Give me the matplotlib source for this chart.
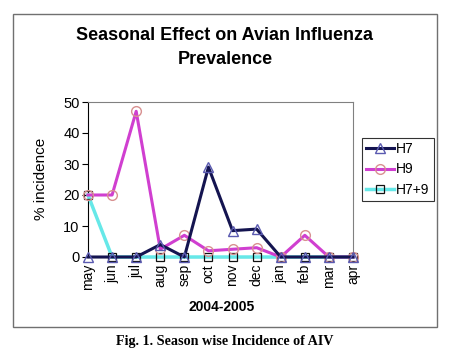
import matplotlib
matplotlib.use("Agg")
import matplotlib.pyplot as plt
from matplotlib.patches import Rectangle

months = ["may", "jun", "jul", "aug", "sep", "oct", "nov", "dec", "jan", "feb", "mar", "apr"]
h7 = [0, 0, 0, 4, 0, 29, 8.5, 9, 0, 0, 0, 0]
h9 = [20, 20, 47, 2.5, 7, 2, 2.5, 3, 0, 7, 0, 0]
h79 = [20, 0, 0, 0, 0, 0, 0, 0, 0, 0, 0, 0]

W, H = 450, 357
fig = plt.figure(figsize=(W / 100, H / 100), dpi=100)
plt.rcParams['font.family'] = ['Liberation Sans', 'DejaVu Sans']

# gray frame around the chart
fig.patches.append(Rectangle((13 / W, 1 - 327 / H), 424 / W, 313 / H, transform=fig.transFigure,
                             fill=False, edgecolor='#707070', linewidth=1.0))

ax = fig.add_axes([88 / W, 1 - 257 / H, 265 / W, 155 / H])
x = list(range(len(months)))

ax.plot(x, h79, color='#66e8e8', linewidth=2.5, marker='s', markersize=6,
        markerfacecolor='none', markeredgecolor='#111111', markeredgewidth=0.9,
        label='H7+9', clip_on=False, zorder=3)
ax.plot(x, h9, color='#d03fd0', linewidth=2.2, marker='o', markersize=7,
        markerfacecolor='none', markeredgecolor='#d89090', markeredgewidth=1.0,
        label='H9', clip_on=False, zorder=4)
ax.plot(x, h7, color='#141450', linewidth=2.2, marker='^', markersize=7,
        markerfacecolor='none', markeredgecolor='#5a5ab0', markeredgewidth=1.0,
        label='H7', clip_on=False, zorder=5)

ax.set_xlim(0, 11)
ax.set_ylim(0, 50)
ax.set_yticks([0, 10, 20, 30, 40, 50])
ax.set_xticks(x)
ax.set_xticklabels(months, rotation=90, fontsize=10)
ax.tick_params(axis='y', labelsize=10.5, length=4, direction='out', pad=2)
ax.tick_params(axis='x', length=0, pad=5)
ax.spines['top'].set_color('#808080')
ax.spines['right'].set_color('#808080')

handles, labels = ax.get_legend_handles_labels()
leg = fig.legend(handles[::-1], labels[::-1], loc='upper left',
                 bbox_to_anchor=(362 / W, 1 - 138 / H), fontsize=10,
                 frameon=True, fancybox=False, edgecolor='black', handlelength=2.0,
                 handletextpad=0.15, borderpad=0.3, labelspacing=0.45, borderaxespad=0)
leg.get_frame().set_linewidth(0.8)

fig.text(225 / W, 1 - 36 / H, "Seasonal Effect on Avian Influenza", ha='center', va='center',
         fontsize=13, fontweight='bold')
fig.text(225 / W, 1 - 60 / H, "Prevalence", ha='center', va='center',
         fontsize=13, fontweight='bold')
fig.text(41 / W, 1 - 179 / H, "% incidence", rotation=90, ha='center', va='center', fontsize=11)
fig.text(222 / W, 1 - 307 / H, "2004-2005", ha='center', va='center', fontsize=10,
         fontweight='bold')
fig.text(225 / W, 1 - 341 / H, "Fig. 1. Season wise Incidence of AIV", ha='center', va='center',
         fontsize=10.2, fontweight='bold', family=['Liberation Serif', 'DejaVu Serif'])

fig.savefig("out.png", dpi=100)
